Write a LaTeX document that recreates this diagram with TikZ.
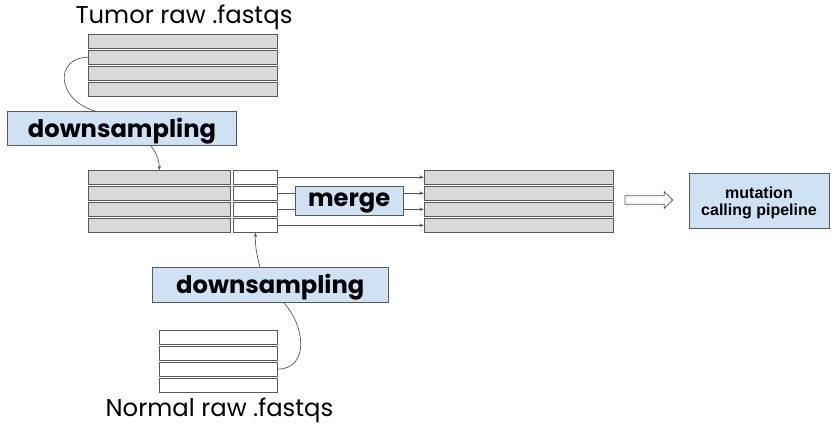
\documentclass[tikz,border=0pt]{standalone}
\usepackage{fontspec}
\setmainfont{Poppins}
\newfontfamily\arialf{Liberation Sans}
\usetikzlibrary{arrows.meta}
\definecolor{barfill}{HTML}{D9D9D9}
\definecolor{edge}{HTML}{595959}
\definecolor{boxfill}{HTML}{CFE2F3}
\tikzset{
  bar/.style={draw=edge, line width=0.9pt, inner sep=0pt, minimum height=14pt},
  graybar/.style={bar, fill=barfill},
  whitebar/.style={bar, fill=white},
  bluebox/.style={draw=edge, line width=0.9pt, fill=boxfill, inner sep=0pt},
  conn/.style={draw=edge, line width=0.7pt},
  arr/.style={conn, -{Stealth[length=4.5pt,width=3.5pt]}},
  bigtext/.style={font=\fontsize{24.3}{26}\selectfont, text=black, anchor=base, inner sep=0pt},
  boldtext/.style={font=\fontsize{24.2}{26}\selectfont\bfseries, text=black, anchor=base, inner sep=0pt},
}
\begin{document}
\begin{tikzpicture}[x=1pt,y=-1pt]
\useasboundingbox (0,0) rectangle (831,428);
% Tumor
\node[bigtext] (tumorlbl) at (184,23.3) {Tumor raw .fastqs};
\foreach \i/\y in {1/41.3,2/57.3,3/73.3,4/89.3}
  \node[graybar, minimum width=189pt] (t\i) at (182.8,\y) {};
% downsampling 1
\node[bluebox, minimum width=229.4pt, minimum height=34pt] (ds1) at (122,128.7) {};
\node[boldtext] (ds1t) at (122,137.4) {downsampling};
% middle rows
\foreach \i/\y in {1/177.2,2/193.2,3/209.3,4/225.3}{
  \node[graybar, minimum width=142.4pt] (l\i) at (159.5,\y) {};
  \node[whitebar, minimum width=44.4pt] (w\i) at (255.5,\y) {};
  \node[graybar, minimum width=189pt] (r\i) at (518.8,\y) {};
}
% merge
\node[bluebox, minimum width=108.3pt, minimum height=28.7pt] (mg) at (349.2,200.7) {};
\node[boldtext] (mgt) at (349.2,206.7) {merge};
% downsampling 2
\node[bluebox, minimum width=236pt, minimum height=35pt] (ds2) at (270.3,284.8) {};
\node[boldtext] (ds2t) at (270.3,293.3) {downsampling};
% normal
\foreach \i/\y in {1/337.2,2/353.2,3/369.2,4/385.2}
  \node[whitebar, minimum width=118pt] (n\i) at (218.3,\y) {};
\node[bigtext] (normlbl) at (219.5,416.7) {Normal raw .fastqs};
% mutation box
\node[bluebox, minimum width=140pt, minimum height=55pt] (mut) at (759,200.8) {};
\node[font=\arialf\bfseries\fontsize{16}{17}\selectfont, anchor=base, inner sep=0pt] (mutt1) at (759,198) {mutation};
\node[font=\arialf\bfseries\fontsize{16}{17}\selectfont, anchor=base, inner sep=0pt] (mutt2) at (759,215) {calling pipeline};
% connectors
\draw[arr] (w1.east) -- (r1.west);
\draw[arr] (w4.east) -- (r4.west);
\draw[conn] (w2.east) -- (w2.east -| mg.west);
\draw[conn] (w3.east) -- (w3.east -| mg.west);
\draw[arr] (r2.west -| mg.east) -- (r2.west);
\draw[arr] (r3.west -| mg.east) -- (r3.west);
% curves
\coordinate (c1s) at (97,111.7);
\draw[conn] (t2.west) .. controls (55,57.3) and (55,100) .. (c1s);
\coordinate (a1s) at (150.7,145.7);
\coordinate (a1e) at (159.3,170.2);
\draw[arr] (a1s) .. controls (156,152) and (159.3,160) .. (a1e);
\coordinate (a2s) at (260,267.3);
\draw[arr] (a2s) .. controls (257,256) and (255,246) .. (w4.south);
\coordinate (c2s) at (283.3,302.3);
\draw[conn] (c2s) .. controls (305,325) and (310,368.5) .. (n3.east);
% hollow arrow
\draw[draw=edge, line width=0.8pt, fill=white] (625,195.7) -- (664.3,195.7) -- (664.3,191.7) -- (672.7,200) -- (664.3,208.3) -- (664.3,204.3) -- (625,204.3) -- cycle;
\end{tikzpicture}
\end{document}
